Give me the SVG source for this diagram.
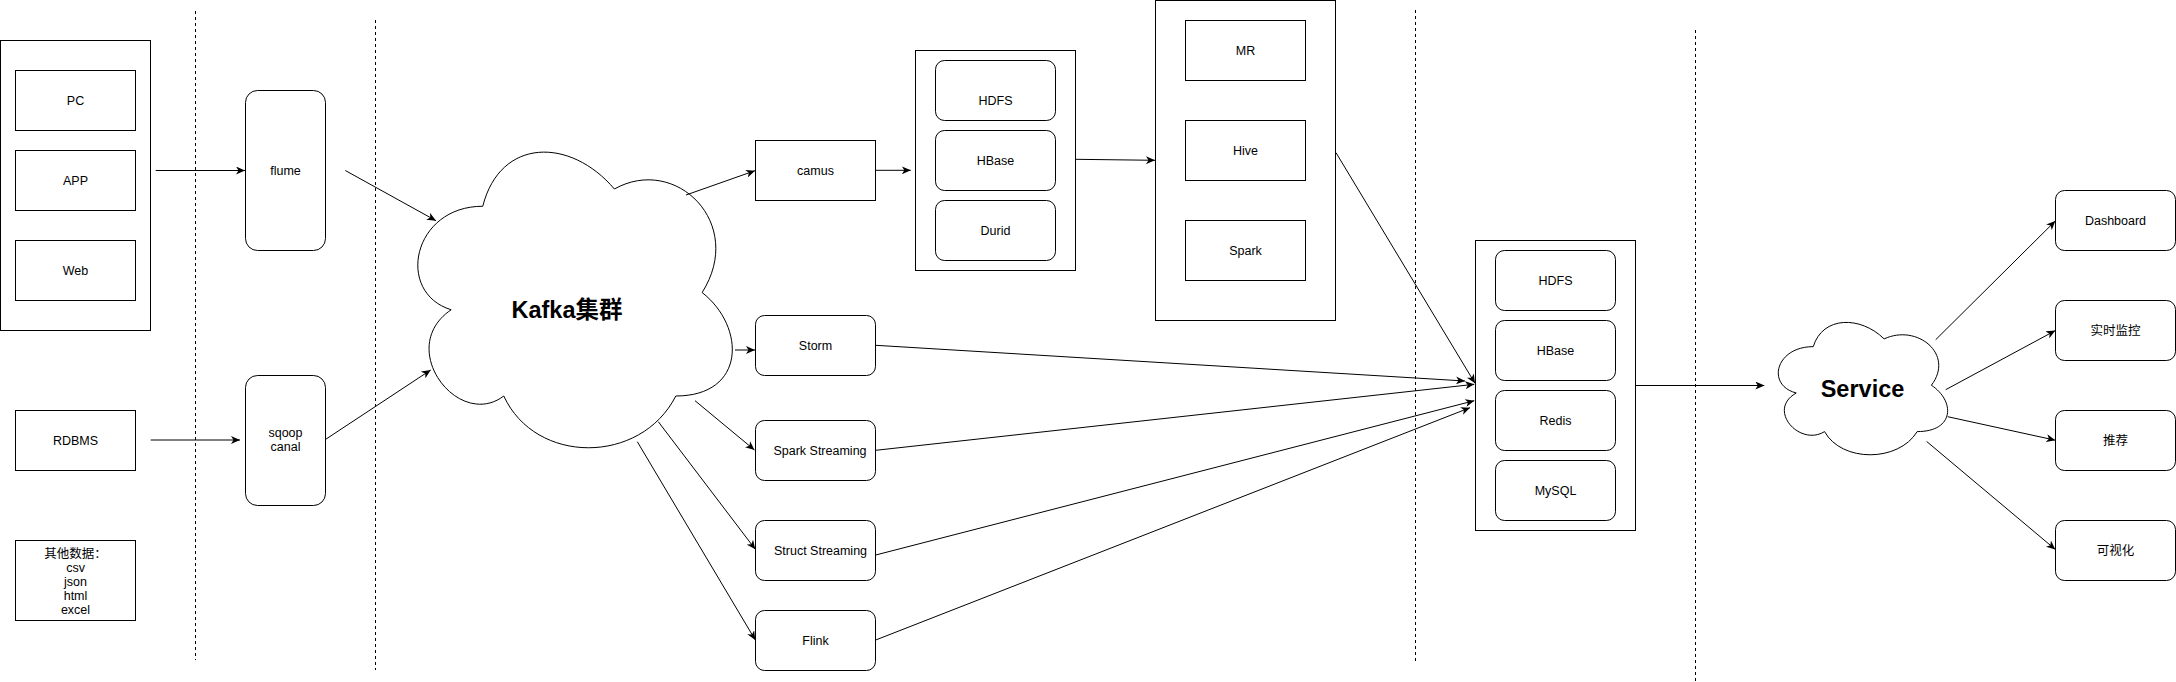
<svg xmlns="http://www.w3.org/2000/svg" width="2176" height="682" viewBox="0 0 2176 682">
<style>
  .box{fill:#fff;stroke:#000;stroke-width:1}
  .grp{fill:#fff;stroke:#000;stroke-width:1}
  .t{font-family:"Liberation Sans","Noto Sans CJK SC",sans-serif;font-size:12.5px;fill:#000;text-anchor:middle}
  .big{font-family:"Liberation Sans","Noto Sans CJK SC",sans-serif;font-size:23.5px;font-weight:bold;fill:#000;text-anchor:middle}
  .dash{stroke:#000;stroke-width:1;stroke-dasharray:3 3;fill:none}
  .c line{stroke:#000;stroke-width:1;fill:none;marker-end:url(#arr)}
</style>
<defs>
  <marker id="arr" markerUnits="userSpaceOnUse" viewBox="0 0 9 8" markerWidth="9" markerHeight="8" refX="9" refY="4" orient="auto">
    <path d="M0,0 L9,4 L0,8 L2.5,4 Z" fill="#000"/>
  </marker>
</defs>
<rect width="2176" height="682" fill="#fff"/>

<g id="separators">
  <line class="dash" x1="195.5" y1="11" x2="195.5" y2="660"/>
  <line class="dash" x1="375.5" y1="20" x2="375.5" y2="670"/>
  <line class="dash" x1="1415.5" y1="10" x2="1415.5" y2="661"/>
  <line class="dash" x1="1695.5" y1="30" x2="1695.5" y2="682"/>
</g>

<g id="sources">
  <rect class="grp" x="0.5" y="40.5" width="150" height="290"/>
  <g id="pc"><rect class="box" x="15.5" y="70.5" width="120" height="60"/><text class="t" x="75.5" y="104.9">PC</text></g>
  <g id="app"><rect class="box" x="15.5" y="150.5" width="120" height="60"/><text class="t" x="75.5" y="184.9">APP</text></g>
  <g id="web"><rect class="box" x="15.5" y="240.5" width="120" height="60"/><text class="t" x="75.5" y="274.9">Web</text></g>
</g>
<g id="rdbms"><rect class="box" x="15.5" y="410.5" width="120" height="60"/><text class="t" x="75.5" y="444.9">RDBMS</text></g>
<g id="other">
  <rect class="box" x="15.5" y="540.5" width="120" height="80"/>
  <text class="t" x="75.5" y="557.5">其他数据：</text>
  <text class="t" x="75.5" y="571.7">csv</text>
  <text class="t" x="75.5" y="585.9">json</text>
  <text class="t" x="75.5" y="600.1">html</text>
  <text class="t" x="75.5" y="614.3">excel</text>
</g>
<g id="flume"><rect class="box" x="245.5" y="90.5" width="80" height="160" rx="12"/><text class="t" x="285.5" y="174.9">flume</text></g>
<g id="sqoop"><rect class="box" x="245.5" y="375.5" width="80" height="130" rx="12"/><text class="t" x="285.5" y="436.5">sqoop</text><text class="t" x="285.5" y="450.9">canal</text></g>

<g id="kafka">
  <path class="box" d="M482.75,206.25 C412.55,206.25 395,292.5 451.16,309.75 C395,347.7 458.18,430.5 503.81,396 C535.4,465 640.7,465 675.8,396 C746,396 746,327 702.13,292.5 C746,223.5 675.8,154.5 614.38,189 C570.5,137.25 500.3,137.25 482.75,206.25 Z"/>
  <text class="big" x="567" y="318.3">Kafka集群</text>
</g>

<g id="camus"><rect class="box" x="755.5" y="140.5" width="120" height="60"/><text class="t" x="815.5" y="174.9">camus</text></g>
<g id="storm"><rect class="box" x="755.5" y="315.5" width="120" height="60" rx="9"/><text class="t" x="815.5" y="349.9">Storm</text></g>
<g id="sparkstreaming"><rect class="box" x="755.5" y="420.5" width="120" height="60" rx="9"/><text class="t" x="820" y="454.9">Spark Streaming</text></g>
<g id="structstreaming"><rect class="box" x="755.5" y="520.5" width="120" height="60" rx="9"/><text class="t" x="820.5" y="554.9">Struct Streaming</text></g>
<g id="flink"><rect class="box" x="755.5" y="610.5" width="120" height="60" rx="9"/><text class="t" x="815.5" y="644.9">Flink</text></g>

<g id="storage">
  <rect class="grp" x="915.5" y="50.5" width="160" height="220"/>
  <g id="s-hdfs"><rect class="box" x="935.5" y="60.5" width="120" height="60" rx="9"/><text class="t" x="995.5" y="104.9">HDFS</text></g>
  <g id="s-hbase"><rect class="box" x="935.5" y="130.5" width="120" height="60" rx="9"/><text class="t" x="995.5" y="164.9">HBase</text></g>
  <g id="s-durid"><rect class="box" x="935.5" y="200.5" width="120" height="60" rx="9"/><text class="t" x="995.5" y="234.9">Durid</text></g>
</g>

<g id="compute">
  <rect class="grp" x="1155.5" y="0.5" width="180" height="320"/>
  <g id="mr"><rect class="box" x="1185.5" y="20.5" width="120" height="60"/><text class="t" x="1245.5" y="54.9">MR</text></g>
  <g id="hive"><rect class="box" x="1185.5" y="120.5" width="120" height="60"/><text class="t" x="1245.5" y="154.9">Hive</text></g>
  <g id="spark"><rect class="box" x="1185.5" y="220.5" width="120" height="60"/><text class="t" x="1245.5" y="254.9">Spark</text></g>
</g>

<g id="serving">
  <rect class="grp" x="1475.5" y="240.5" width="160" height="290"/>
  <g id="v-hdfs"><rect class="box" x="1495.5" y="250.5" width="120" height="60" rx="9"/><text class="t" x="1555.5" y="284.9">HDFS</text></g>
  <g id="v-hbase"><rect class="box" x="1495.5" y="320.5" width="120" height="60" rx="9"/><text class="t" x="1555.5" y="354.9">HBase</text></g>
  <g id="v-redis"><rect class="box" x="1495.5" y="390.5" width="120" height="60" rx="9"/><text class="t" x="1555.5" y="424.9">Redis</text></g>
  <g id="v-mysql"><rect class="box" x="1495.5" y="460.5" width="120" height="60" rx="9"/><text class="t" x="1555.5" y="494.9">MySQL</text></g>
</g>

<g id="service">
  <path class="box" d="M1813.25,346.63 C1775.45,346.63 1766,385.25 1796.24,392.98 C1766,409.97 1800.02,447.05 1824.59,431.6 C1841.6,462.5 1898.3,462.5 1917.2,431.6 C1955,431.6 1955,400.7 1931.38,385.25 C1955,354.35 1917.2,323.45 1884.13,338.9 C1860.5,315.73 1822.7,315.73 1813.25,346.63 Z"/>
  <text class="big" x="1862.5" y="397">Service</text>
</g>

<g id="dashboard"><rect class="box" x="2055.5" y="190.5" width="120" height="60" rx="9"/><text class="t" x="2115.5" y="224.9">Dashboard</text></g>
<g id="monitor"><rect class="box" x="2055.5" y="300.5" width="120" height="60" rx="9"/><text class="t" x="2115.5" y="334.9">实时监控</text></g>
<g id="recommend"><rect class="box" x="2055.5" y="410.5" width="120" height="60" rx="9"/><text class="t" x="2115.5" y="444.9">推荐</text></g>
<g id="visual"><rect class="box" x="2055.5" y="520.5" width="120" height="60" rx="9"/><text class="t" x="2115.5" y="554.9">可视化</text></g>

<g id="connectors" class="c">
  <line x1="155.7" y1="170.5" x2="245" y2="170.5"/>
  <line x1="150.7" y1="440" x2="240" y2="440"/>
  <line x1="345.3" y1="170.5" x2="436" y2="220.7"/>
  <line x1="325.7" y1="439.3" x2="430.7" y2="370"/>
  <line x1="686" y1="195" x2="755" y2="170.7"/>
  <line x1="735" y1="350" x2="755" y2="350"/>
  <line x1="695" y1="400.7" x2="754.5" y2="450"/>
  <line x1="658.3" y1="421.7" x2="755.3" y2="549.3"/>
  <line x1="637.3" y1="441.7" x2="755.3" y2="640"/>
  <line x1="875.6" y1="170.3" x2="910.8" y2="170.3"/>
  <line x1="1075.7" y1="159.3" x2="1155" y2="160.3"/>
  <line x1="1336" y1="152.7" x2="1475" y2="383.3"/>
  <line x1="875.7" y1="345.3" x2="1465" y2="381"/>
  <line x1="875.7" y1="450.3" x2="1474.3" y2="384.3"/>
  <line x1="875.7" y1="555" x2="1474.3" y2="400.7"/>
  <line x1="875.7" y1="640" x2="1470" y2="407.7"/>
  <line x1="1635.3" y1="385.5" x2="1764.3" y2="385.5"/>
  <line x1="1935.7" y1="339.7" x2="2055.3" y2="221"/>
  <line x1="1945.7" y1="389.7" x2="2055.3" y2="330.6"/>
  <line x1="1947.7" y1="416.7" x2="2055.3" y2="440.2"/>
  <line x1="1926.7" y1="441.5" x2="2055.3" y2="549.4"/>
</g>
</svg>
